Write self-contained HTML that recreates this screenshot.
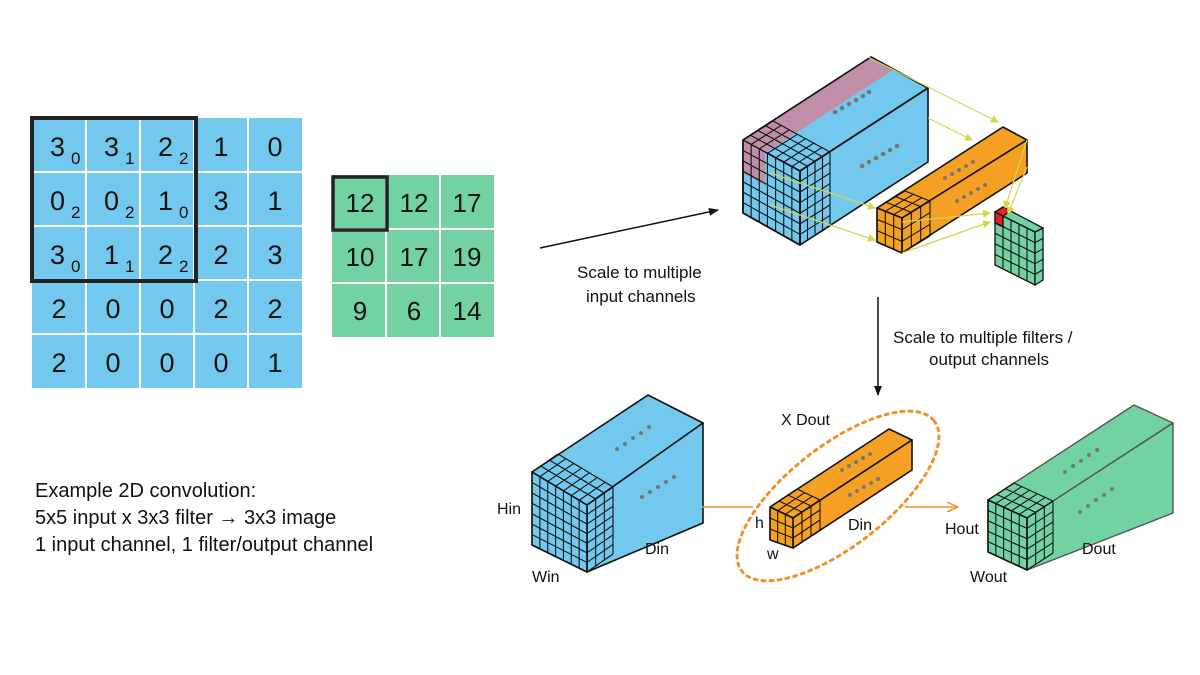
<!DOCTYPE html>
<html><head><meta charset="utf-8"><style>
html,body{margin:0;padding:0;background:#fff;}
svg{display:block;font-family:"Liberation Sans",sans-serif;}
</style></head><body>
<svg id="s" width="1200" height="675" viewBox="0 0 1200 675" xmlns="http://www.w3.org/2000/svg">
<defs>
<marker id="ab" markerWidth="10" markerHeight="10" refX="9" refY="5" orient="auto" markerUnits="userSpaceOnUse"><path d="M0,1 L10,5 L0,9 Z" fill="#111"/></marker>
<marker id="ao" markerWidth="12" markerHeight="10" refX="10" refY="5" orient="auto" markerUnits="userSpaceOnUse"><path d="M0,0 L11,5 L0,10" fill="none" stroke="#f0922a" stroke-width="1.5"/></marker>
<marker id="ay" markerWidth="8" markerHeight="8" refX="7" refY="4" orient="auto" markerUnits="userSpaceOnUse"><path d="M0,0 L8,4 L0,8 Z" fill="#d6d64a"/></marker>
</defs>

<!-- left 5x5 grid -->
<rect x="32" y="118" width="270" height="270" fill="#73c8ee"/>
<g stroke="#fff" stroke-width="2">
<line x1="86" y1="118" x2="86" y2="388"/><line x1="140" y1="118" x2="140" y2="388"/><line x1="194" y1="118" x2="194" y2="388"/><line x1="248" y1="118" x2="248" y2="388"/>
<line x1="32" y1="172" x2="302" y2="172"/><line x1="32" y1="226" x2="302" y2="226"/><line x1="32" y1="280" x2="302" y2="280"/><line x1="32" y1="334" x2="302" y2="334"/>
</g>
<rect x="32" y="118" width="164" height="163" fill="none" stroke="#222" stroke-width="4"/>
<g font-size="27" fill="#111">
<text x="50" y="156">3</text><text x="71" y="164" font-size="17">0</text>
<text x="104" y="156">3</text><text x="125" y="164" font-size="17">1</text>
<text x="158" y="156">2</text><text x="179" y="164" font-size="17">2</text>
<text x="221" y="156" text-anchor="middle">1</text><text x="275" y="156" text-anchor="middle">0</text>
<text x="50" y="210">0</text><text x="71" y="218" font-size="17">2</text>
<text x="104" y="210">0</text><text x="125" y="218" font-size="17">2</text>
<text x="158" y="210">1</text><text x="179" y="218" font-size="17">0</text>
<text x="221" y="210" text-anchor="middle">3</text><text x="275" y="210" text-anchor="middle">1</text>
<text x="50" y="264">3</text><text x="71" y="272" font-size="17">0</text>
<text x="104" y="264">1</text><text x="125" y="272" font-size="17">1</text>
<text x="158" y="264">2</text><text x="179" y="272" font-size="17">2</text>
<text x="221" y="264" text-anchor="middle">2</text><text x="275" y="264" text-anchor="middle">3</text>
<text x="59" y="318" text-anchor="middle">2</text><text x="113" y="318" text-anchor="middle">0</text><text x="167" y="318" text-anchor="middle">0</text><text x="221" y="318" text-anchor="middle">2</text><text x="275" y="318" text-anchor="middle">2</text>
<text x="59" y="372" text-anchor="middle">2</text><text x="113" y="372" text-anchor="middle">0</text><text x="167" y="372" text-anchor="middle">0</text><text x="221" y="372" text-anchor="middle">0</text><text x="275" y="372" text-anchor="middle">1</text>
</g>

<!-- green 3x3 -->
<rect x="332" y="175" width="162" height="162" fill="#72d2a2"/>
<g stroke="#fff" stroke-width="2">
<line x1="386" y1="175" x2="386" y2="337"/><line x1="440" y1="175" x2="440" y2="337"/>
<line x1="332" y1="229" x2="494" y2="229"/><line x1="332" y1="283" x2="494" y2="283"/>
</g>
<rect x="333" y="177" width="54" height="53" fill="none" stroke="#222" stroke-width="3.5"/>
<g font-size="26" fill="#111" text-anchor="middle">
<text x="360" y="212">12</text><text x="414" y="212">12</text><text x="467" y="212">17</text>
<text x="360" y="266">10</text><text x="414" y="266">17</text><text x="467" y="266">19</text>
<text x="360" y="320">9</text><text x="414" y="320">6</text><text x="467" y="320">14</text>
</g>

<line x1="540" y1="248" x2="718" y2="210" stroke="#111" stroke-width="1.5" marker-end="url(#ab)"/>
<g font-size="17" fill="#111">
<text x="577" y="278">Scale to multiple</text>
<text x="586" y="302">input channels</text>
<text x="893" y="343">Scale to multiple filters /</text>
<text x="929" y="365">output channels</text>
</g>
<line x1="878" y1="297" x2="878" y2="395" stroke="#111" stroke-width="1.5" marker-end="url(#ab)"/>

<g font-size="20" fill="#111">
<text x="35" y="497">Example 2D convolution:</text>
<text x="35" y="524">5x5 input x 3x3 filter → 3x3 image</text>
<text x="35" y="551">1 input channel, 1 filter/output channel</text>
</g>

<!-- top right big blue box -->
<g stroke="#111" stroke-width="1.6" stroke-linejoin="round" fill="#73c8ee">
<polygon points="743,140 871,57 928,88 800,171"/>
<polygon points="800,171 928,88 928,162 800,245"/>
<polygon points="743,140 800,171 800,245 743,213"/>
</g>
<polygon points="743,140 871,57 893,70 765,153" fill="#c08ea6"/>
<polygon points="743,140 765,152 765,185 743,173" fill="#c08ea6"/>
<g id="gtop" stroke="#111" stroke-width="1.1"></g>
<g stroke="#111" stroke-width="1.6" fill="none" stroke-linejoin="round">
<polygon points="743,140 871,57 928,88 800,171 800,245 743,213"/>
<line x1="800" y1="171" x2="928" y2="88"/>
</g>
<g fill="#777">
<circle cx="835" cy="112" r="2.3"/><circle cx="842" cy="108" r="2.3"/><circle cx="849" cy="104" r="2.3"/><circle cx="856" cy="100" r="2.3"/><circle cx="863" cy="96" r="2.3"/><circle cx="869" cy="92" r="2.3"/>
<circle cx="862" cy="166" r="2.3"/><circle cx="869" cy="162" r="2.3"/><circle cx="876" cy="158" r="2.3"/><circle cx="883" cy="154" r="2.3"/><circle cx="890" cy="150" r="2.3"/><circle cx="897" cy="146" r="2.3"/>
</g>
<!-- orange top -->
<g stroke="#111" stroke-width="1.6" stroke-linejoin="round" fill="#f5a023">
<polygon points="877,208 1003,127 1027,140 902,218"/>
<polygon points="902,218 1027,140 1027,173 902,253"/>
<polygon points="877,208 902,218 902,253 877,242"/>
</g>
<g id="gorg" stroke="#111" stroke-width="1.1"></g>
<g fill="#777">
<circle cx="945" cy="178" r="2"/><circle cx="952" cy="174" r="2"/><circle cx="959" cy="170" r="2"/><circle cx="966" cy="166" r="2"/><circle cx="973" cy="162" r="2"/>
<circle cx="957" cy="201" r="2"/><circle cx="964" cy="197" r="2"/><circle cx="971" cy="193" r="2"/><circle cx="978" cy="189" r="2"/><circle cx="985" cy="185" r="2"/>
</g>
<!-- green small -->
<g stroke="#111" stroke-width="1.3" fill="#72d2a2">
<polygon points="995,212 1035,232 1035,285 995,265"/>
<polygon points="1035,232 1043,228 1043,280 1035,285"/>
<polygon points="995,212 1003,207 1043,228 1035,232"/>
<polygon points="995,212 1003,207 1011,211 1003,216" fill="#e82020"/>
<polygon points="995,212 1003,216 1003,227 995,223" fill="#e82020"/>
</g>
<g id="gsm" stroke="#111" stroke-width="1.1"></g>
<!-- yellow connectors -->
<g stroke="#d6d64a" stroke-width="1.2" fill="none">
<line x1="868" y1="57" x2="998" y2="122" marker-end="url(#ay)"/>
<line x1="928" y1="118" x2="972" y2="140" marker-end="url(#ay)"/>
<line x1="770" y1="173" x2="875" y2="208" marker-end="url(#ay)"/>
<line x1="770" y1="205" x2="875" y2="240" marker-end="url(#ay)"/>
<line x1="1027" y1="140" x2="1005" y2="208" marker-end="url(#ay)"/>
<line x1="1027" y1="167" x2="1008" y2="214" marker-end="url(#ay)"/>
<line x1="902" y1="222" x2="990" y2="213" marker-end="url(#ay)"/>
<line x1="902" y1="253" x2="990" y2="222" marker-end="url(#ay)"/>
</g>

<!-- bottom blue box -->
<g stroke="#111" stroke-width="1.6" stroke-linejoin="round" fill="#73c8ee">
<polygon points="532,472 648,395 703,423 587,505"/>
<polygon points="587,505 703,423 703,523 587,572"/>
<polygon points="532,472 587,505 587,572 532,545"/>
</g>
<g fill="#777">
<circle cx="617" cy="449" r="2"/><circle cx="625" cy="444" r="2"/><circle cx="633" cy="438" r="2"/><circle cx="641" cy="433" r="2"/><circle cx="649" cy="427" r="2"/>
<circle cx="642" cy="497" r="2"/><circle cx="650" cy="492" r="2"/><circle cx="658" cy="487" r="2"/><circle cx="666" cy="482" r="2"/><circle cx="674" cy="477" r="2"/>
</g>
<!-- bottom orange -->
<line x1="702" y1="507" x2="753" y2="507" stroke="#f0922a" stroke-width="1.6"/>
<line x1="905" y1="507" x2="957" y2="507" stroke="#f0922a" stroke-width="1.6" marker-end="url(#ao)"/>
<ellipse cx="838" cy="496" rx="122" ry="50" transform="rotate(-38 838 496)" fill="none" stroke="#f0922a" stroke-width="3" stroke-dasharray="3,5" stroke-linecap="round"/>
<g stroke="#111" stroke-width="1.6" stroke-linejoin="round" fill="#f5a023">
<polygon points="770,507 889,429 912,440 793,518"/>
<polygon points="793,518 912,440 912,470 793,548"/>
<polygon points="770,507 793,518 793,548 770,540"/>
</g>
<g fill="#777">
<circle cx="842" cy="470" r="2"/><circle cx="849" cy="466" r="2"/><circle cx="856" cy="462" r="2"/><circle cx="863" cy="458" r="2"/><circle cx="870" cy="454" r="2"/>
<circle cx="850" cy="495" r="2"/><circle cx="857" cy="491" r="2"/><circle cx="864" cy="487" r="2"/><circle cx="871" cy="483" r="2"/><circle cx="878" cy="479" r="2"/>
</g>
<!-- bottom green -->
<g stroke="#555" stroke-width="1.4" stroke-linejoin="round" fill="#72d2a2">
<polygon points="988,500 1134,405 1173,423 1027,518"/>
<polygon points="1027,518 1173,423 1173,513 1027,570"/>
</g>
<polygon points="988,500 1027,518 1027,570 988,552" fill="#72d2a2" stroke="#111" stroke-width="1.6"/>
<g fill="#777">
<circle cx="1065" cy="472" r="2"/><circle cx="1073" cy="466" r="2"/><circle cx="1081" cy="461" r="2"/><circle cx="1089" cy="455" r="2"/><circle cx="1097" cy="450" r="2"/>
<circle cx="1080" cy="512" r="2"/><circle cx="1088" cy="506" r="2"/><circle cx="1096" cy="500" r="2"/><circle cx="1104" cy="495" r="2"/><circle cx="1112" cy="489" r="2"/>
</g>
<g id="gbot" stroke="#111" stroke-width="1.1"></g>
<g font-size="16" fill="#111">
<text x="497" y="514">Hin</text><text x="532" y="582">Win</text><text x="645" y="554">Din</text>
<text x="781" y="425">X Dout</text><text x="755" y="528">h</text><text x="767" y="559">w</text><text x="848" y="530">Din</text>
<text x="945" y="534">Hout</text><text x="970" y="582">Wout</text><text x="1082" y="554">Dout</text>
</g>
</svg>
<script>
(function(){
var NS="http://www.w3.org/2000/svg";
function L(g,a,b){var l=document.createElementNS(NS,"line");l.setAttribute("x1",a[0]);l.setAttribute("y1",a[1]);l.setAttribute("x2",b[0]);l.setAttribute("y2",b[1]);g.appendChild(l);}
function lerp(p,q,t){return [p[0]+(q[0]-p[0])*t,p[1]+(q[1]-p[1])*t];}
function quad(id,A,B,C,D,nu,nv,border){var g=document.getElementById(id);
 for(var i=1;i<nu;i++){var t=i/nu;L(g,lerp(A,B,t),lerp(D,C,t));}
 for(var j=1;j<nv;j++){var s=j/nv;L(g,lerp(A,D,s),lerp(B,C,s));}
 if(border){L(g,A,B);L(g,B,C);L(g,C,D);L(g,D,A);}}
function add(p,d){return [p[0]+d[0],p[1]+d[1]];}
function cube(id,A,B,Bp,Ap,d,n,m){
 var E=add(B,d),Ep=add(Bp,d),T=add(A,d);
 quad(id,A,B,Bp,Ap,n,n,true);
 quad(id,B,E,Ep,Bp,m,n,true);
 quad(id,T,E,B,A,n,m,true);
}
cube("gtop",[743,140],[800,171],[800,245],[743,213],[30,-19],7,4);
cube("gorg",[877,208],[902,218],[902,253],[877,242],[28,-17],3,3);
quad("gsm",[995,212],[1035,232],[1035,285],[995,265],5,5,false);
quad("gsm",[1035,232],[1043,228],[1043,280],[1035,285],1,5,false);
cube("gbot",[532,472],[587,505],[587,572],[532,545],[26,-18],7,3);
cube("gbot",[770,507],[793,518],[793,548],[770,540],[27,-18],3,3);
cube("gbot",[988,500],[1027,518],[1027,570],[988,552],[26,-17],5,3);
})();
</script>
</body></html>
